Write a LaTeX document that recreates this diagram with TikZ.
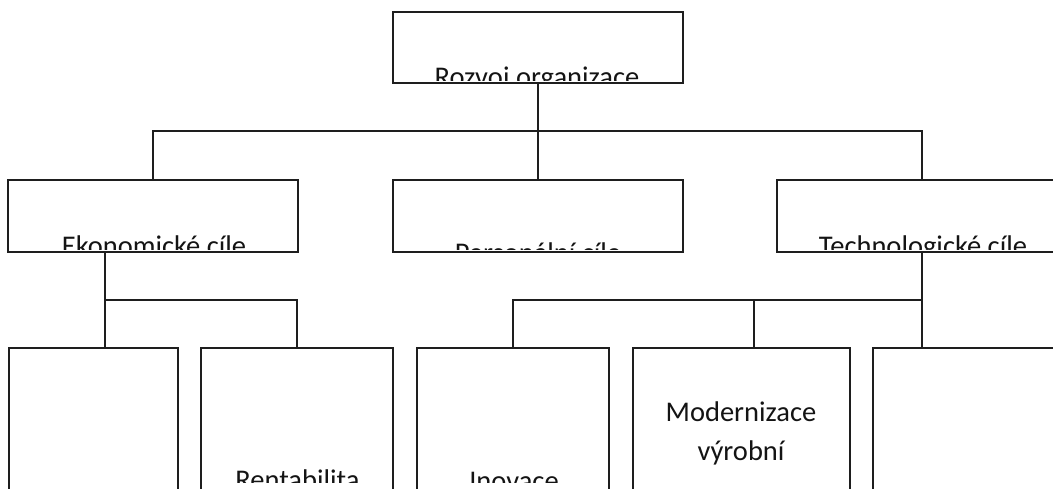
\documentclass[tikz,border=0pt]{standalone}
\usepackage{fontspec}
\setmainfont{Carlito}
\definecolor{linec}{RGB}{30,30,30}
\definecolor{textc}{RGB}{20,20,20}
\tikzset{
  box/.style={draw=linec, line width=2pt, inner sep=0pt, fill=white},
  conn/.style={draw=linec, line width=2pt},
  lbl/.style={anchor=base, inner sep=0pt, text=textc, font=\fontsize{28.5}{38.3}\selectfont}
}
\begin{document}
\begin{tikzpicture}[x=1pt,y=-1pt]
\useasboundingbox (0,0) rectangle (1053,489);
\clip (0,0) rectangle (1053,489);
\fill[white] (0,0) rectangle (1053,489);

% boxes
\node[box, minimum width=290pt, minimum height=71pt] (top) at (538,47.5) {};
\node[box, minimum width=290pt, minimum height=72pt] (ekon) at (153,216) {};
\node[box, minimum width=290pt, minimum height=72pt] (pers) at (538,216) {};
\node[box, minimum width=290pt, minimum height=72pt] (tech) at (922,216) {};
\node[box, minimum width=169pt, minimum height=170pt] (b1) at (93.5,433) {};
\node[box, minimum width=192pt, minimum height=170pt] (b2) at (297,433) {};
\node[box, minimum width=192pt, minimum height=170pt] (b3) at (513,433) {};
\node[box, minimum width=217pt, minimum height=170pt] (b4) at (741.5,433) {};
\node[box, minimum width=227pt, minimum height=170pt] (b5) at (986.5,433) {};

% junctions
\coordinate (j1) at (538,131);
\coordinate (j2) at (105,300);
\coordinate (j3) at (922,300);
\coordinate (j4) at (754,300);

% connectors
\draw[conn] (top.south) -- (pers.north);
\draw[conn] (ekon.north) |- (j1) -| (tech.north);
\draw[conn] (j2 |- ekon.south) -- (j2 |- b1.north);
\draw[conn] (j2) -| (b2.north);
\draw[conn] (tech.south) -- (tech.south |- b5.north);
\draw[conn] (b3.north) |- (j3);
\draw[conn] (j4) -- (j4 |- b4.north);

% clipped texts
\begin{scope}
\clip (393,12) rectangle (682,80.5);
\node[lbl] (ttop) at (537,86.5) {Rozvoj organizace};
\end{scope}
\begin{scope}
\clip (8,180) rectangle (298,249.5);
\node[lbl] (tekon) at (154,255.5) {Ekonomické cíle};
\end{scope}
\begin{scope}
\clip (393,180) rectangle (682,249.5);
\node[lbl] (tpers) at (538,262.5) {Personální cíle};
\end{scope}
\begin{scope}
\clip (777,180) rectangle (1053,249.5);
\node[lbl] (ttech) at (923,255.5) {Technologické cíle};
\end{scope}
\begin{scope}
\clip (0,348) rectangle (1053,482);
\node[lbl] (tb2) at (297.5,489.4) {Rentabilita};
\node[lbl] (tb3) at (514,490.4) {Inovace};
\node[lbl] (tb4) at (741,421.7) {\begin{tabular}[t]{@{}c@{}}Modernizace\\výrobní\end{tabular}};
\end{scope}
\end{tikzpicture}
\end{document}
